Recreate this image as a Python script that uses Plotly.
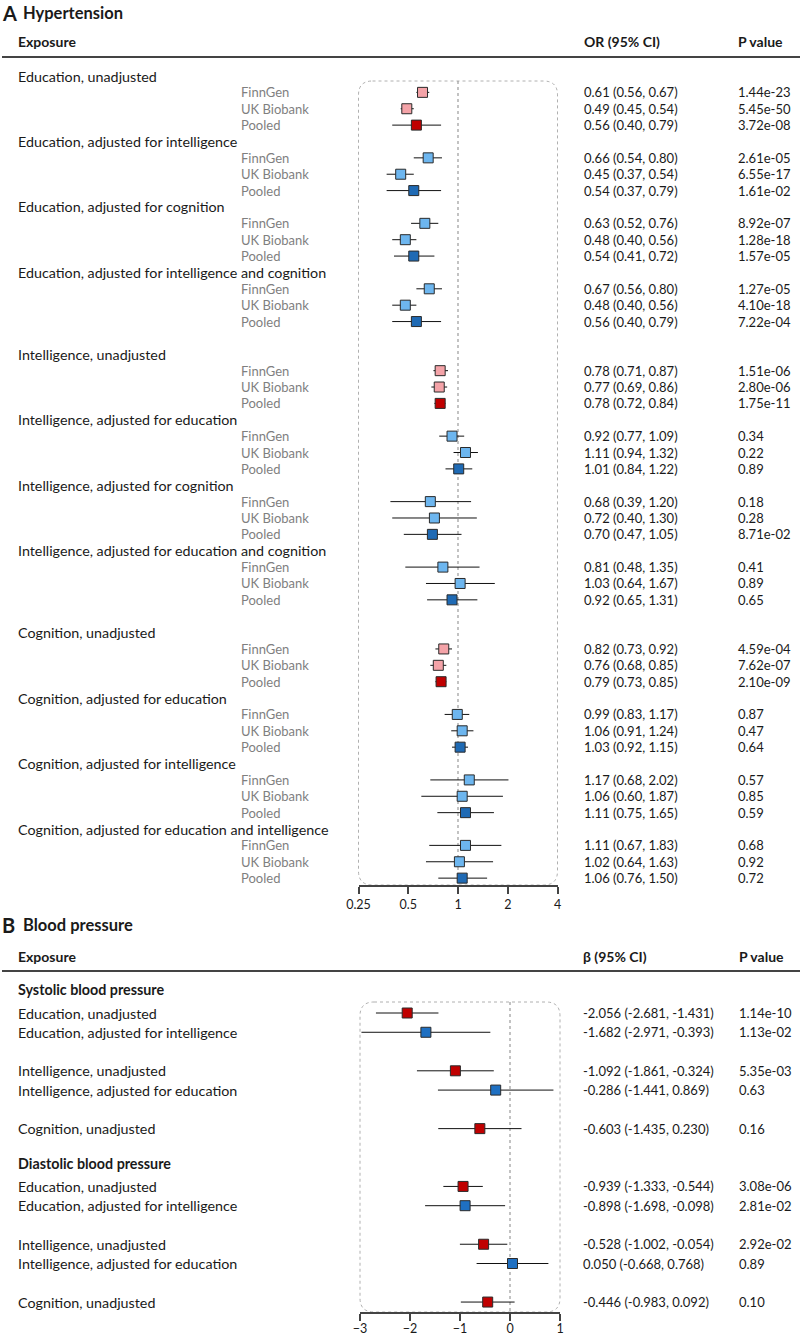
import math

import plotly.graph_objects as go

W, H = 800, 1337
FONT = "Lato"

# ---- painel A: hipertensão (OR) ----
grupos_a = [
    "Education, unadjusted",
    "Education, adjusted for intelligence",
    "Education, adjusted for cognition",
    "Education, adjusted for intelligence and cognition",
    "Intelligence, unadjusted",
    "Intelligence, adjusted for education",
    "Intelligence, adjusted for cognition",
    "Intelligence, adjusted for education and cognition",
    "Cognition, unadjusted",
    "Cognition, adjusted for education",
    "Cognition, adjusted for intelligence",
    "Cognition, adjusted for education and intelligence",
]
estudos = ["FinnGen", "UK Biobank", "Pooled"]

or_a = [
    0.61, 0.49, 0.56, 0.66, 0.45, 0.54, 0.63, 0.48, 0.54, 0.67, 0.48, 0.56,
    0.78, 0.77, 0.78, 0.92, 1.11, 1.01, 0.68, 0.72, 0.70, 0.81, 1.03, 0.92,
    0.82, 0.76, 0.79, 0.99, 1.06, 1.03, 1.17, 1.06, 1.11, 1.11, 1.02, 1.06,
]
lo_a = [
    0.56, 0.45, 0.40, 0.54, 0.37, 0.37, 0.52, 0.40, 0.41, 0.56, 0.40, 0.40,
    0.71, 0.69, 0.72, 0.77, 0.94, 0.84, 0.39, 0.40, 0.47, 0.48, 0.64, 0.65,
    0.73, 0.68, 0.73, 0.83, 0.91, 0.92, 0.68, 0.60, 0.75, 0.67, 0.64, 0.76,
]
hi_a = [
    0.67, 0.54, 0.79, 0.80, 0.54, 0.79, 0.76, 0.56, 0.72, 0.80, 0.56, 0.79,
    0.87, 0.86, 0.84, 1.09, 1.32, 1.22, 1.20, 1.30, 1.05, 1.35, 1.67, 1.31,
    0.92, 0.85, 0.85, 1.17, 1.24, 1.15, 2.02, 1.87, 1.65, 1.83, 1.63, 1.50,
]
p_a = [
    "1.44e-23", "5.45e-50", "3.72e-08", "2.61e-05", "6.55e-17", "1.61e-02",
    "8.92e-07", "1.28e-18", "1.57e-05", "1.27e-05", "4.10e-18", "7.22e-04",
    "1.51e-06", "2.80e-06", "1.75e-11", "0.34", "0.22", "0.89",
    "0.18", "0.28", "8.71e-02", "0.41", "0.89", "0.65",
    "4.59e-04", "7.62e-07", "2.10e-09", "0.87", "0.47", "0.64",
    "0.57", "0.85", "0.59", "0.68", "0.92", "0.72",
]
ticks_a = [0.25, 0.5, 1, 2, 4]
ticktext_a = ["0.25", "0.5", "1", "2", "4"]

# ---- painel B: pressão arterial (beta) ----
desfechos_b = ["Systolic blood pressure", "Diastolic blood pressure"]
exposicoes_b = [
    "Education, unadjusted",
    "Education, adjusted for intelligence",
    "Intelligence, unadjusted",
    "Intelligence, adjusted for education",
    "Cognition, unadjusted",
]
beta_b = [-2.056, -1.682, -1.092, -0.286, -0.603, -0.939, -0.898, -0.528, 0.050, -0.446]
lo_b = [-2.681, -2.971, -1.861, -1.441, -1.435, -1.333, -1.698, -1.002, -0.668, -0.983]
hi_b = [-1.431, -0.393, -0.324, 0.869, 0.230, -0.544, -0.098, -0.054, 0.768, 0.092]
p_b = ["1.14e-10", "1.13e-02", "5.35e-03", "0.63", "0.16",
       "3.08e-06", "2.81e-02", "2.92e-02", "0.89", "0.10"]
ticks_b = [-3, -2, -1, 0, 1]

PINK, RED = "#F4A3A8", "#C00000"
LBLUE, DBLUE = "#6DB6EF", "#1F6AB4"
BLUE_B = "#1F70C2"
TXT = "#1a1a1a"
GREY = "#7f7f7f"

# posições (pixels da página)
A_ROW0, A_STEP, A_BOX, A_AXIS = 76, 16.37, 81, 885
B_ROW0, B_STEP, B_BOX, B_AXIS = 1013, 19.27, 1002, 1312
X_A = (358.5, 557.5)
X_B = (360, 560)
COL_CI, COL_P = 582, 736


def px(x):
    return x / W


def py(y):
    return 1 - y / H


anots = []


def texto(x, y, s, size=13, color=TXT, bold=False):
    anots.append(dict(
        x=px(x), y=py(y), xref="paper", yref="paper", text=f"<b>{s}</b>" if bold else s,
        showarrow=False, xanchor="left", yanchor="middle",
        font=dict(family=FONT, size=size, color=color),
    ))


# linhas do painel A
ys_a, cores_a = [], []
r = 0
anterior = None
for g, grupo in enumerate(grupos_a):
    exp = grupo.split(",")[0]
    if anterior is not None and exp != anterior:
        r += 1
    anterior = exp
    texto(16, A_ROW0 + r * A_STEP, grupo, size=14.3)
    r += 1
    for s, estudo in enumerate(estudos):
        i = g * 3 + s
        y = A_ROW0 + r * A_STEP
        ys_a.append(y)
        texto(239, y, estudo, size=13, color=GREY)
        texto(COL_CI, y, f"{or_a[i]:.2f} ({lo_a[i]:.2f}, {hi_a[i]:.2f})")
        texto(COL_P, y, p_a[i])
        unadj = "unadjusted" in grupo
        if estudo == "Pooled":
            cores_a.append(RED if unadj else DBLUE)
        else:
            cores_a.append(PINK if unadj else LBLUE)
        r += 1

# linhas do painel B
ys_b, cores_b = [], []
r = -1
for d, desfecho in enumerate(desfechos_b):
    if d > 0:
        r += 1
    texto(16, B_ROW0 + r * B_STEP - 4, desfecho, size=14.3, bold=True)
    r += 1
    anterior = None
    for e, exposicao in enumerate(exposicoes_b):
        exp = exposicao.split(",")[0]
        if anterior is not None and exp != anterior:
            r += 1
        anterior = exp
        i = d * len(exposicoes_b) + e
        y = B_ROW0 + r * B_STEP
        ys_b.append(y)
        texto(16, y, exposicao, size=14.3)
        texto(COL_CI - 1, y, f"{beta_b[i]:.3f} ({lo_b[i]:.3f}, {hi_b[i]:.3f})")
        texto(COL_P + 1, y, p_b[i])
        cores_b.append(RED if "unadjusted" in exposicao else BLUE_B)
        r += 1

# cabeçalhos
texto(0, 13, "A", size=20, bold=True)
texto(21, 13, "Hypertension", size=16.5, bold=True)
texto(16, 41, "Exposure", size=14, bold=True)
texto(COL_CI, 41, "OR (95% CI)", size=14, bold=True)
texto(COL_P, 41, "P value", size=14, bold=True)
texto(0, 925, "B", size=20, bold=True)
texto(21, 925, "Blood pressure", size=16.5, bold=True)
texto(16, 956, "Exposure", size=14, bold=True)
texto(COL_CI - 1, 956, "β (95% CI)", size=14, bold=True)
texto(COL_P + 1, 956, "P value", size=14, bold=True)


def caixa(x0, x1, y0, y1, raio=14):
    # retângulo de cantos arredondados, em coordenadas de papel
    a, b = px(x0), px(x1)
    t, u = py(y0), py(y1)
    rx, ry = raio / W, raio / H
    return (
        f"M {a + rx},{t} L {b - rx},{t} Q {b},{t} {b},{t - ry} "
        f"L {b},{u + ry} Q {b},{u} {b - rx},{u} L {a + rx},{u} "
        f"Q {a},{u} {a},{u + ry} L {a},{t - ry} Q {a},{t} {a + rx},{t} Z"
    )


shapes = [
    dict(type="path", path=caixa(X_A[0], X_A[1], A_BOX, A_AXIS), xref="paper", yref="paper",
         line=dict(color="#b0b0b0", width=1, dash="dot"), layer="below"),
    dict(type="path", path=caixa(X_B[0], X_B[1], B_BOX, B_AXIS), xref="paper", yref="paper",
         line=dict(color="#b0b0b0", width=1, dash="dot"), layer="below"),
    dict(type="line", x0=px(2), x1=1, y0=py(57), y1=py(57), xref="paper", yref="paper",
         line=dict(color="#444444", width=2)),
    dict(type="line", x0=px(2), x1=1, y0=py(971), y1=py(971), xref="paper", yref="paper",
         line=dict(color="#444444", width=2)),
]

fig = go.Figure()

# linhas de referência
fig.add_trace(go.Scatter(
    x=[1, 1], y=[A_BOX, A_AXIS], mode="lines", xaxis="x", yaxis="y",
    line=dict(color="#9a9a9a", width=1.2, dash="dot"), hoverinfo="skip",
))
fig.add_trace(go.Scatter(
    x=[0, 0], y=[B_BOX, B_AXIS], mode="lines", xaxis="x2", yaxis="y2",
    line=dict(color="#9a9a9a", width=1.2, dash="dot"), hoverinfo="skip",
))

fig.add_trace(go.Scatter(
    x=or_a, y=ys_a, mode="markers", xaxis="x", yaxis="y",
    error_x=dict(type="data", symmetric=False,
                 array=[h - o for h, o in zip(hi_a, or_a)],
                 arrayminus=[o - l for o, l in zip(or_a, lo_a)],
                 color="#111111", thickness=1, width=0),
    marker=dict(symbol="square", size=10, color=cores_a, line=dict(color="#2a2a2a", width=1)),
))
fig.add_trace(go.Scatter(
    x=beta_b, y=ys_b, mode="markers", xaxis="x2", yaxis="y2",
    error_x=dict(type="data", symmetric=False,
                 array=[h - b for h, b in zip(hi_b, beta_b)],
                 arrayminus=[b - l for b, l in zip(beta_b, lo_b)],
                 color="#111111", thickness=1, width=0),
    marker=dict(symbol="square", size=10, color=cores_b, line=dict(color="#2a2a2a", width=1)),
))

eixo = dict(
    showgrid=False, zeroline=False, showline=True, linecolor="#444444", linewidth=1.5,
    ticks="outside", ticklen=7, tickwidth=1.5, tickcolor="#444444",
    tickfont=dict(family=FONT, size=12.5, color=TXT), fixedrange=True, automargin=False,
)

fig.update_layout(
    width=W, height=H,
    margin=dict(l=0, r=0, t=0, b=0, autoexpand=False),
    paper_bgcolor="white", plot_bgcolor="rgba(0,0,0,0)",
    showlegend=False,
    font=dict(family=FONT, color=TXT),
    xaxis=dict(eixo, type="log", domain=[px(X_A[0]), px(X_A[1])],
               range=[math.log10(0.25), math.log10(4)], anchor="y",
               tickvals=ticks_a, ticktext=ticktext_a),
    yaxis=dict(domain=[py(A_AXIS), py(A_BOX)], range=[A_AXIS, A_BOX], visible=False,
               fixedrange=True),
    xaxis2=dict(eixo, domain=[px(X_B[0]), px(X_B[1])], range=[-3, 1], anchor="y2",
                tickvals=ticks_b, ticklabelstandoff=-3),
    yaxis2=dict(domain=[py(B_AXIS), py(B_BOX)], range=[B_AXIS, B_BOX], visible=False,
                fixedrange=True),
    annotations=anots,
    shapes=shapes,
)

# a página padrão tem margem de 8px no body; zera para caber exatamente na janela
fig.write_html(
    "out.html",
    config={"displayModeBar": False},
    post_script="document.body.style.margin='0';",
)
